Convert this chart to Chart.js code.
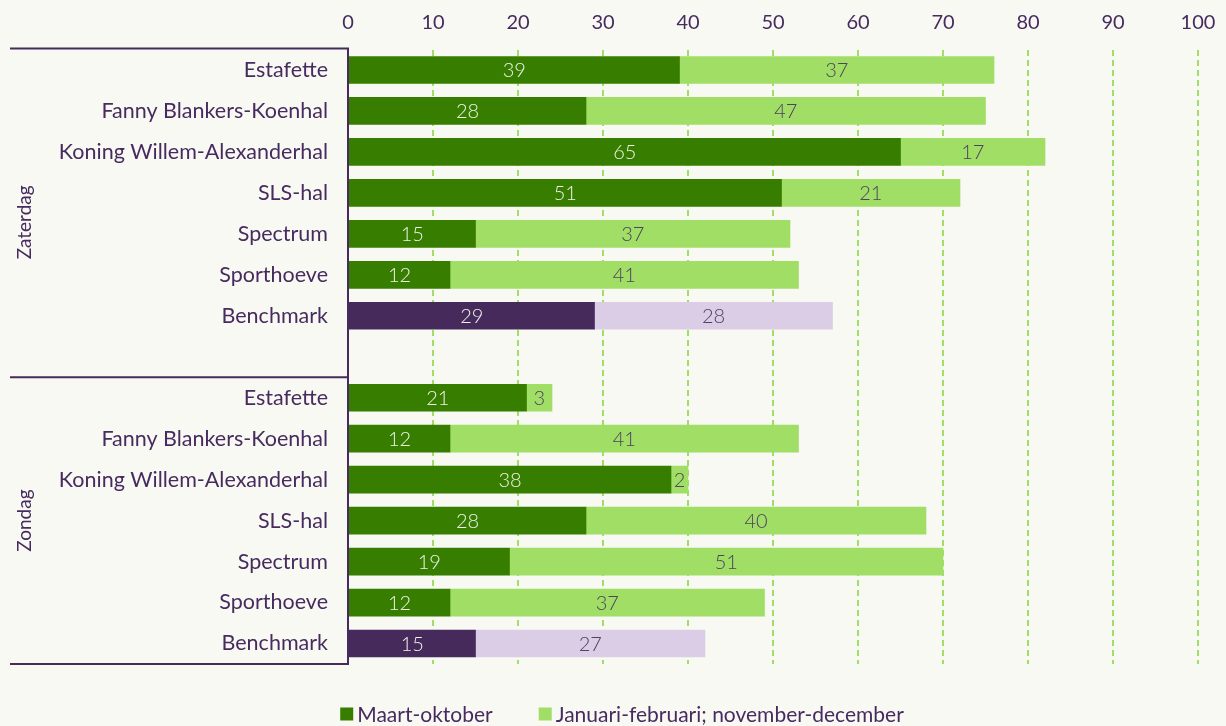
<!DOCTYPE html>
<html>
<head>
<meta charset="utf-8">
<script src="https://cdn.jsdelivr.net/npm/chart.js@4.4.1/dist/chart.umd.min.js"></script>
<style>
  html, body { margin: 0; padding: 0; background: #f9f9f4; }
  #wrap { width: 1226px; height: 726px; }
</style>
</head>
<body>
<div id="wrap"><canvas id="c" width="1226" height="726"></canvas></div>
<script>
// Bezetting per hal: zaterdag en zondag, gestapelde balken.

const hallen = ["Estafette", "Fanny Blankers-Koenhal", "Koning Willem-Alexanderhal",
  "SLS-hal", "Spectrum", "Sporthoeve", "Benchmark"];
const categorieen = [...hallen, "", ...hallen];
const groepen = ["Zaterdag", "Zondag"];
const reeksNamen = ["Maart-oktober", "Januari-februari; november-december"];

const maartOktober = [39, 28, 65, 51, 15, 12, 29, null, 21, 12, 38, 28, 19, 12, 15];
const winter       = [37, 47, 17, 21, 37, 41, 28, null, 3, 41, 2, 40, 51, 37, 27];
const xTicks = [0, 10, 20, 30, 40, 50, 60, 70, 80, 90, 100];

const PAARS = "#472b5f";
const DONKERGROEN = "#367d00";
const LICHTGROEN = "#a1de66";
const DONKERPAARS = "#462a5c";
const LAVENDEL = "#dccde6";
const FONT = "Lato, 'Open Sans', sans-serif";

const isBench = (i) => categorieen[i] === "Benchmark";

// achtergrond, haakjes, groepslabels en legenda
const extras = {
  id: "extras",
  beforeDraw(chart) {
    const { ctx } = chart;
    ctx.save();
    ctx.fillStyle = "#f9f9f4";
    ctx.fillRect(0, 0, chart.width, chart.height);
    ctx.restore();
  },
  afterDatasetsDraw(chart) {
    const { ctx, chartArea: a, scales } = chart;
    const y = scales.y;
    const half = (y.getPixelForValue(1) - y.getPixelForValue(0)) / 2;
    const sep = y.getPixelForValue(7) + half;
    const x0 = scales.x.getPixelForValue(0);

    // datalabels
    ctx.save();
    ctx.font = `300 20px ${FONT}`;
    ctx.textAlign = "center";
    ctx.textBaseline = "middle";
    chart.data.datasets.forEach((ds, di) => {
      chart.getDatasetMeta(di).data.forEach((bar, i) => {
        const v = ds.data[i];
        if (v == null) return;
        const cx = (bar.x + bar.base) / 2;
        ctx.fillStyle = di === 0 ? "#eef3e8" : "#4e4360";
        ctx.fillText(String(v), cx, bar.y + 1);
      });
    });
    ctx.restore();

    ctx.save();
    ctx.strokeStyle = PAARS;
    ctx.lineWidth = 2;
    ctx.beginPath();
    ctx.moveTo(x0, a.top - 1); ctx.lineTo(x0, a.bottom);
    [a.top - 1, sep, a.bottom].forEach(py => {
      ctx.moveTo(10, py); ctx.lineTo(x0 + 1, py);
    });
    ctx.stroke();

    ctx.fillStyle = PAARS;
    ctx.font = `19px ${FONT}`;
    ctx.textAlign = "center";
    ctx.textBaseline = "middle";
    [[groepen[0], (a.top + sep) / 2 + 9], [groepen[1], (sep + a.bottom) / 2]].forEach(([t, py]) => {
      ctx.save();
      ctx.translate(25, py);
      ctx.rotate(-Math.PI / 2);
      ctx.fillText(t, 0, 0);
      ctx.restore();
    });

    // legenda
    ctx.font = `21px ${FONT}`;
    ctx.textAlign = "left";
    const kleuren = [DONKERGROEN, LICHTGROEN];
    const box = 13, gap = 4, tussen = 46;
    const breedtes = reeksNamen.map(n => box + gap + ctx.measureText(n).width);
    let lx = (chart.width - (breedtes[0] + tussen + breedtes[1])) / 2 + 9;
    const ly = 714;
    reeksNamen.forEach((n, k) => {
      ctx.fillStyle = kleuren[k];
      ctx.fillRect(lx, ly - box / 2, box, box);
      ctx.fillStyle = PAARS;
      ctx.fillText(n, lx + box + gap, ly + 1);
      lx += breedtes[k] + tussen;
    });
    ctx.restore();
  }
};

new Chart(document.getElementById("c"), {
  type: "bar",
  data: {
    labels: categorieen,
    datasets: [
      { label: reeksNamen[0], data: maartOktober,
        backgroundColor: categorieen.map((_, i) => isBench(i) ? DONKERPAARS : DONKERGROEN),
        barThickness: 27 },
      { label: reeksNamen[1], data: winter,
        backgroundColor: categorieen.map((_, i) => isBench(i) ? LAVENDEL : LICHTGROEN),
        barThickness: 27 }
    ]
  },
  options: {
    indexAxis: "y",
    responsive: false,
    animation: false,
    layout: { padding: { left: 0, right: 28, top: 0, bottom: 62 } },
    plugins: { legend: { display: false }, tooltip: { enabled: false } },
    scales: {
      x: {
        position: "top", stacked: true, min: 0, max: 100,
        afterBuildTicks: (s) => { s.ticks = xTicks.map(v => ({ value: v })); },
        afterFit: (s) => { s.height = 49.5; s.paddingLeft = 0; s.paddingRight = 0; },
        grid: { color: (c) => c.tick && c.tick.value === 0 ? "rgba(0,0,0,0)" : LICHTGROEN,
          lineWidth: 2, drawTicks: false },
        border: { display: false, dash: [6, 4] },
        ticks: { color: PAARS, font: { family: FONT, size: 20 }, padding: 15 }
      },
      y: {
        stacked: true,
        afterFit: (s) => { s.width = 348; },
        grid: { display: false, drawTicks: false },
        border: { display: false },
        ticks: { color: PAARS, font: { family: FONT, size: 21.5 }, padding: 20, autoSkip: false }
      }
    }
  },
  plugins: [extras]
});
</script>
</body>
</html>
